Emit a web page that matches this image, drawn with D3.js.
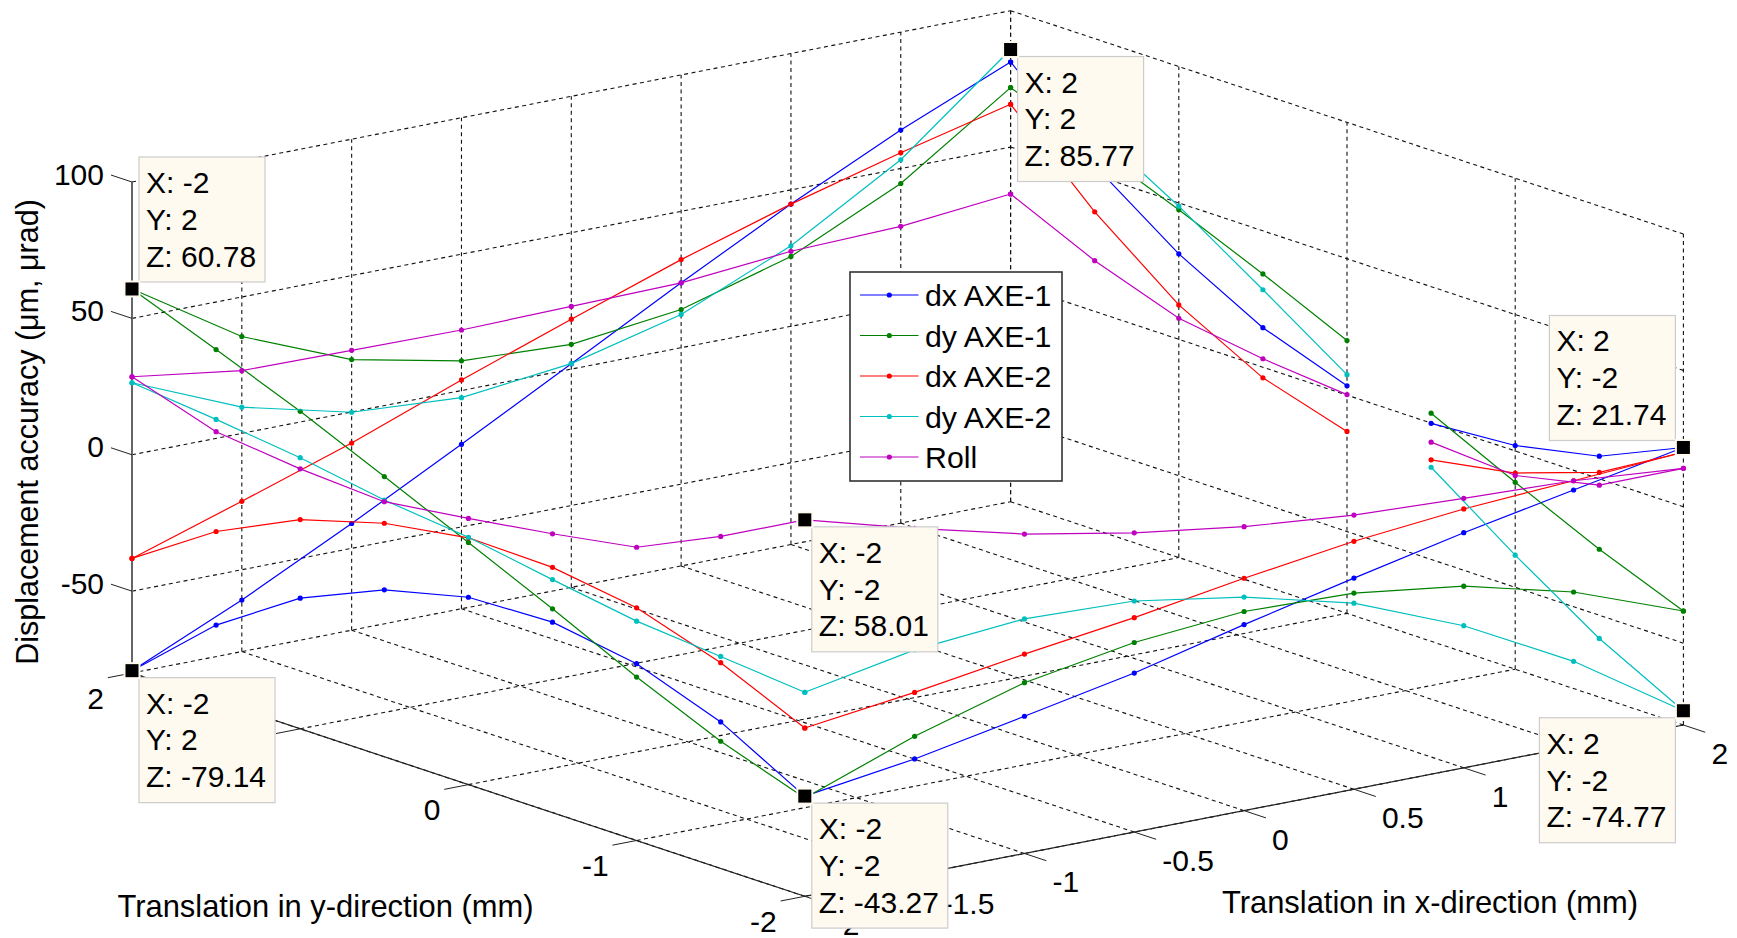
<!DOCTYPE html>
<html>
<head>
<meta charset="utf-8">
<script src="https://cdn.jsdelivr.net/npm/d3@7"></script>
<style>
  body { margin: 0; background: #fff; }
  text { font-family: "Liberation Sans", Arial, sans-serif; fill: #000; }
</style>
</head>
<body>
<svg id="chart" width="1737" height="938"></svg>
<script>
// tick values
const xTicks = [-2, -1.5, -1, -0.5, 0, 0.5, 1, 1.5, 2];
const yTicks = [2, 1, 0, -1, -2];
const zTicks = [-50, 0, 50, 100];
const zFloor = -80;

// measurement positions along one edge; the x = 2 edge has a hole in it
const steps = [-2, -1.5, -1, -0.5, 0, 0.5, 1, 1.5, 2];
const ySteps = [2, 1.5, 1, 0.5, 0, -0.5, -1, -1.5, -2];
const yStepsGap = [2, 1.5, 1, 0.5, 0, null, -0.5, -1, -1.5, -2];

// z values, one array per series per edge of the travel square
// edge y = 2, x from -2 to 2
const dxAxe1_yPos = [-79.14, -61.1, -40.9, -19.7, 2, 23.8, 44.8, 64.1, 81.2];
const dyAxe1_yPos = [60.78, 35.5, 19.2, 10.9, 9.1, 14, 25.6, 44.5, 71.8];
const dxAxe2_yPos = [-38, -24.9, -11.4, 3.9, 18.3, 32.3, 44.8, 55.8, 65.7];
const dyAxe2_yPos = [26.4, 9.6, -0.1, -2.6, 2, 12.2, 29.5, 53.2, 85.77];
const roll_yPos   = [28.6, 23, 22.6, 22.2, 23, 23.8, 27.5, 28.8, 32.8];

// edge x = -2, y from 2 to -2
const dxAxe1_xNeg = [-79.14, -52.2, -32.1, -18.8, -11.3, -10.2, -15.2, -26.3, -43.27];
const dyAxe1_xNeg = [60.78, 48.8, 36.4, 22.7, 8.8, -5.3, -20.1, -33.4, -44];
const dxAxe2_xNeg = [-38, -17.9, -3.3, 5.6, 10.5, 9.9, 5.3, -4.6, -18.3];
const dyAxe2_xNeg = [26.4, 23.2, 19.4, 14.1, 10.7, 5.4, 0.4, -2.3, -5.2];
const roll_xNeg   = [28.6, 18.7, 15.3, 13.5, 17.6, 22.2, 27.5, 41.7, 58.01];

// edge y = -2, x from -2 to 2
const dxAxe1_yNeg = [-43.27, -37.5, -29.7, -21.7, -11.8, -2.6, 6.2, 14, 21.74];
const dyAxe1_yNeg = [-44, -29.2, -17.4, -10.5, -7, -8.1, -13.4, -23.4, -38.2];
const dxAxe2_yNeg = [-18.3, -13.1, -6.9, -1.4, 5.2, 10.9, 14.9, 17.4, 20];
const dyAxe2_yNeg = [-5.2, 2.5, 6, 4.7, -1.7, -11.8, -27.9, -48.8, -74.77];
const roll_yNeg   = [58.01, 47, 37.1, 29.7, 24.1, 20.5, 18.8, 17.4, 14.1];

// edge x = 2, y from 2 to -2, null where the line breaks
const dxAxe1_xPos = [81.2, 53.4, 31.3, 14.5, 3.4, null, -0.1, 2, 8.3, 21.74];
const dyAxe1_xPos = [71.8, 59.9, 47.5, 34.2, 20, null, 3.6, -11.5, -25.8, -38.2];
const dxAxe2_xPos = [65.7, 36.5, 12.6, -3.9, -13.3, null, -13.5, -8.1, 2.4, 20];
const dyAxe2_xPos = [85.77, 66.9, 48.8, 28.4, 7.5, null, -16.2, -38.2, -58.5, -74.77];
const roll_xPos   = [32.8, 18.6, 7.7, 3.1, 0.2, null, -7, -9, -2.3, 14.1];

const seriesNames = ["dx AXE-1", "dy AXE-1", "dx AXE-2", "dy AXE-2", "Roll"];
const seriesColors = ["#0000ff", "#008000", "#ff0000", "#00bfbf", "#bf00bf"];
const seriesEdges = [
  [dxAxe1_yPos, dxAxe1_xNeg, dxAxe1_yNeg, dxAxe1_xPos],
  [dyAxe1_yPos, dyAxe1_xNeg, dyAxe1_yNeg, dyAxe1_xPos],
  [dxAxe2_yPos, dxAxe2_xNeg, dxAxe2_yNeg, dxAxe2_xPos],
  [dyAxe2_yPos, dyAxe2_xNeg, dyAxe2_yNeg, dyAxe2_xPos],
  [roll_yPos, roll_xNeg, roll_yNeg, roll_xPos]
];

// data tips
const tipX = [-2, -2, 2, -2, -2, 2, 2];
const tipY = [2, 2, 2, -2, -2, -2, -2];
const tipZ = ["60.78", "-79.14", "85.77", "58.01", "-43.27", "21.74", "-74.77"];
const tipAbove = [true, false, false, false, false, true, false];
const tipLeft = [false, false, false, false, false, true, true];

const svg = d3.select("#chart");

// the plot is an orthographic 3d view, so each data axis gets screen scales
const xToScreenX = d3.scaleLinear().domain([-2, 2]).range([132, 1010.6]);
const yToScreenX = d3.scaleLinear().domain([2, -2]).range([0, 672.8]);
const xToScreenY = d3.scaleLinear().domain([-2, 2]).range([673, 501.7]);
const yToScreenY = d3.scaleLinear().domain([2, -2]).range([0, 223.3]);
const zToScreenY = d3.scaleLinear().domain([zFloor, 100]).range([0, -491]);

function project(x, y, z) {
  return [xToScreenX(x) + yToScreenX(y), xToScreenY(x) + yToScreenY(y) + zToScreenY(z)];
}

function segment(parent, a, b, color, width, dash) {
  const p = project(...a), q = project(...b);
  parent.append("line")
    .attr("x1", p[0]).attr("y1", p[1])
    .attr("x2", q[0]).attr("y2", q[1])
    .attr("stroke", color)
    .attr("stroke-width", width)
    .attr("stroke-dasharray", dash);
}

// grid
const grid = svg.append("g");
const gridColor = "#111", gridDash = "4 3.5";

xTicks.forEach(x => {
  segment(grid, [x, -2, zFloor], [x, 2, zFloor], gridColor, 1.1, gridDash);
  if (x > -2) segment(grid, [x, 2, zFloor], [x, 2, 100], gridColor, 1.1, gridDash);
});
yTicks.forEach(y => {
  segment(grid, [-2, y, zFloor], [2, y, zFloor], gridColor, 1.1, gridDash);
  segment(grid, [2, y, zFloor], [2, y, 100], gridColor, 1.1, gridDash);
});
zTicks.forEach(z => {
  segment(grid, [-2, 2, z], [2, 2, z], gridColor, 1.1, gridDash);
  segment(grid, [2, 2, z], [2, -2, z], gridColor, 1.1, gridDash);
});

// axes and ticks
const axes = svg.append("g");
segment(axes, [-2, 2, zFloor], [-2, -2, zFloor], "#222", 1.2);
segment(axes, [-2, -2, zFloor], [2, -2, zFloor], "#222", 1.2);
segment(axes, [-2, 2, zFloor], [-2, 2, 100], "#666", 2);

zTicks.forEach(z => {
  segment(axes, [-2, 2, z], [-2, 2.125, z], "#222", 1);
  const p = project(-2, 2, z);
  axes.append("text").attr("x", p[0] - 28).attr("y", p[1] + 2.5)
    .attr("text-anchor", "end").style("font-size", "30px").text(z);
});
yTicks.forEach(y => {
  segment(axes, [-2, y, zFloor], [-2.11, y, zFloor], "#222", 1);
  const p = project(-2, y, zFloor);
  axes.append("text").attr("x", p[0] - 28).attr("y", p[1] + 35.5)
    .attr("text-anchor", "end").style("font-size", "30px").text(y);
});
xTicks.forEach(x => {
  segment(axes, [x, -2, zFloor], [x, -2.13, zFloor], "#222", 1);
  const p = project(x, -2, zFloor);
  axes.append("text").attr("x", p[0] + 28).attr("y", p[1] + 39)
    .style("font-size", "30px").text(x);
});

// axis titles
axes.append("text").attr("x", 325.5).attr("y", 917).attr("text-anchor", "middle")
  .style("font-size", "30.9px").text("Translation in y-direction (mm)");
axes.append("text").attr("x", 1430).attr("y", 913).attr("text-anchor", "middle")
  .style("font-size", "30.9px").text("Translation in x-direction (mm)");
axes.append("text").attr("transform", "translate(38,432) rotate(-90)").attr("text-anchor", "middle")
  .style("font-size", "30.5px").text("Displacement accuracy (\u03bcm, \u03bcrad)");

// series, one polyline per edge
const lineGen = d3.line().defined(d => d[2] !== null).x(d => project(...d)[0]).y(d => project(...d)[1]);
const edgePoints = [
  v => steps.map((x, i) => [x, 2, v[i]]),
  v => ySteps.map((y, i) => [-2, y, v[i]]),
  v => steps.map((x, i) => [x, -2, v[i]]),
  v => yStepsGap.map((y, i) => [2, y === null ? 0 : y, v[i]])
];

seriesEdges.forEach((edges, s) => {
  const g = svg.append("g");
  edges.forEach((values, e) => {
    const pts = edgePoints[e](values);
    g.append("path")
      .attr("d", lineGen(pts))
      .attr("fill", "none")
      .attr("stroke", seriesColors[s])
      .attr("stroke-width", 1.2);
    g.selectAll(null)
      .data(pts.filter(d => d[2] !== null))
      .enter().append("circle")
        .attr("cx", d => project(...d)[0])
        .attr("cy", d => project(...d)[1])
        .attr("r", 2.6)
        .attr("fill", seriesColors[s]);
  });
});

// legend
const legend = svg.append("g").attr("transform", "translate(850,272)");
legend.append("rect")
  .attr("width", 212).attr("height", 209)
  .attr("fill", "#fff").attr("stroke", "#333").attr("stroke-width", 1.6);
const legendY = d3.scalePoint().domain(seriesNames).range([23, 185]);
seriesNames.forEach((name, i) => {
  legend.append("line")
    .attr("x1", 10).attr("x2", 68.5)
    .attr("y1", legendY(name)).attr("y2", legendY(name))
    .attr("stroke", seriesColors[i]).attr("stroke-width", 1.2);
  legend.append("circle")
    .attr("cx", 39.3).attr("cy", legendY(name)).attr("r", 2.6)
    .attr("fill", seriesColors[i]);
  legend.append("text")
    .attr("x", 75).attr("y", legendY(name) + 11)
    .style("font-size", "30.3px").text(name);
});

// data tips go on top of everything
const tipFill = "#fffaf0";
tipZ.forEach((z, i) => {
  const p = project(tipX[i], tipY[i], +z);
  const g = svg.append("g");
  const box = g.append("rect").attr("fill", tipFill).attr("stroke", "#ccc").attr("stroke-width", 1.2);
  const rows = [`X: ${tipX[i]}`, `Y: ${tipY[i]}`, `Z: ${z}`];
  const labels = rows.map((t, r) => g.append("text").attr("y", 36 + r * 36.8).style("font-size", "30px").text(t));
  const w = Math.round(d3.max(labels, l => l.node().getComputedTextLength())) + 16;
  const h = 125;
  const bx = tipLeft[i] ? p[0] - 8 - w : p[0] + 7;
  const by = tipAbove[i] ? p[1] - 7 - h : p[1] + 7;
  box.attr("width", w).attr("height", h);
  labels.forEach(l => l.attr("x", 7));
  g.attr("transform", `translate(${bx},${by})`);

  svg.append("rect").attr("x", p[0] - 8.5).attr("y", p[1] - 8.5).attr("width", 17).attr("height", 17).attr("fill", tipFill);
  svg.append("rect").attr("x", p[0] - 6.5).attr("y", p[1] - 6.5).attr("width", 13).attr("height", 13).attr("fill", "#000");
});
</script>
</body>
</html>
